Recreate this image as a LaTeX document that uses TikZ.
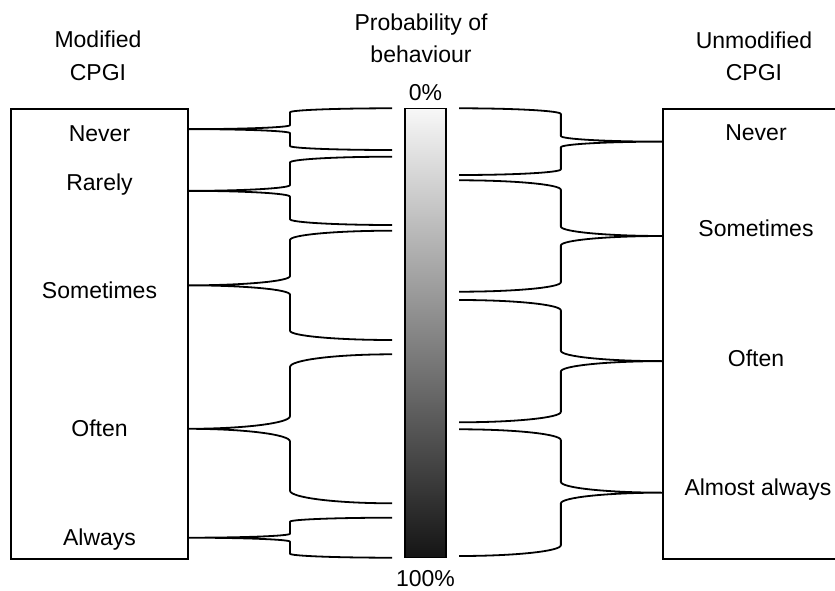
\documentclass[tikz,border=0pt]{standalone}
\usepackage{fontspec}
\setmainfont{Liberation Sans}
\tikzset{
  boxst/.style={draw=black, line width=1.8pt, inner sep=0pt, outer sep=0pt},
  barst/.style={draw=black, line width=1.4pt, inner sep=0pt, outer sep=0pt,
    top color=white!97!black, bottom color=black!92, minimum width=41pt, minimum height=449pt},
  lbl/.style={font=\fontsize{23}{32.5}\selectfont, anchor=base, inner sep=0pt},
  hdr/.style={font=\fontsize{23}{32.5}\selectfont, align=center, anchor=base, inner sep=0pt},
  bracest/.style={draw=black, line width=1.8pt, line join=round}
}
\newcommand{\brc}[4]{%
 \pgfmathsetmacro\bxm{(#1+#2)/2}%
 \pgfmathsetmacro\bym{(#3+#4)/2}%
 \pgfmathsetmacro\bhh{#4-#3}%
 \pgfmathsetmacro\brr{max(4,0.085*\bhh)}%
 \pgfmathsetmacro\bkk{0.5523}%
 \pgfmathsetmacro\baa{#2-\bxm}%
 \pgfmathsetmacro\cxe{#2-\bkk*\baa}%
 \pgfmathsetmacro\cxt{#1+\bkk*\baa}%
 \pgfmathsetmacro\yya{#3+\brr}%
 \pgfmathsetmacro\yyac{#3+\brr-\bkk*\brr}%
 \pgfmathsetmacro\yyb{\bym-\brr}%
 \pgfmathsetmacro\yybc{\bym-\brr+\bkk*\brr}%
 \pgfmathsetmacro\yyc{\bym+\brr}%
 \pgfmathsetmacro\yycc{\bym+\brr-\bkk*\brr}%
 \pgfmathsetmacro\yyd{#4-\brr}%
 \pgfmathsetmacro\yydc{#4-\brr+\bkk*\brr}%
 \draw[bracest] (#2,#3) .. controls (\cxe,#3) and (\bxm,\yyac) .. (\bxm,\yya)
   -- (\bxm,\yyb) .. controls (\bxm,\yybc) and (\cxt,\bym) .. (#1,\bym)
   .. controls (\cxt,\bym) and (\bxm,\yycc) .. (\bxm,\yyc)
   -- (\bxm,\yyd) .. controls (\bxm,\yydc) and (\cxe,#4) .. (#2,#4);
}
\begin{document}
\begin{tikzpicture}[x=1pt,y=-1pt]
\clip (0,0) rectangle (835,591);
\fill[white] (0,0) rectangle (835,591);
% boxes
\node[boxst, minimum width=177pt, minimum height=449.5pt] (lbox) at (99.5,333.9) {};
\node[boxst, minimum width=200pt, minimum height=450pt] (rbox) at (762.7,333.9) {};
\node[barst] (bar) at (425.5,333) {};
% headers
\node[hdr] (hl) at (98,80.5) {Modified\\CPGI};
\node[hdr] (hm) at (421,63) {Probability of\\behaviour};
\node[hdr] (hr) at (754,81) {Unmodified\\CPGI};
\node[lbl] (p0) at (425.5,101) {0\%};
\node[lbl] (p100) at (425.5,586) {100\%};
% left labels
\node[lbl] (l1) at (99.5,141.5) {Never};
\node[lbl] (l2) at (99.5,190.7) {Rarely};
\node[lbl] (l3) at (99.5,298.3) {Sometimes};
\node[lbl] (l4) at (99.5,436) {Often};
\node[lbl] (l5) at (99.5,545) {Always};
% right labels
\node[lbl] (r1) at (756,141) {Never};
\node[lbl] (r2) at (756,236) {Sometimes};
\node[lbl] (r3) at (756,366) {Often};
\node[lbl] (r4) at (758,495) {Almost always};
% left braces
\brc{188}{392}{108.3}{150}
\brc{188}{392}{156.7}{225}
\brc{188}{392}{230.7}{340}
\brc{188}{392}{354.3}{503.3}
\brc{188}{392}{517.7}{557.7}
% right braces
\brc{662.7}{459}{108.3}{175}
\brc{662.7}{459}{180.3}{291.7}
\brc{662.7}{459}{300}{422.3}
\brc{662.7}{459}{429.3}{556}
\end{tikzpicture}
\end{document}
